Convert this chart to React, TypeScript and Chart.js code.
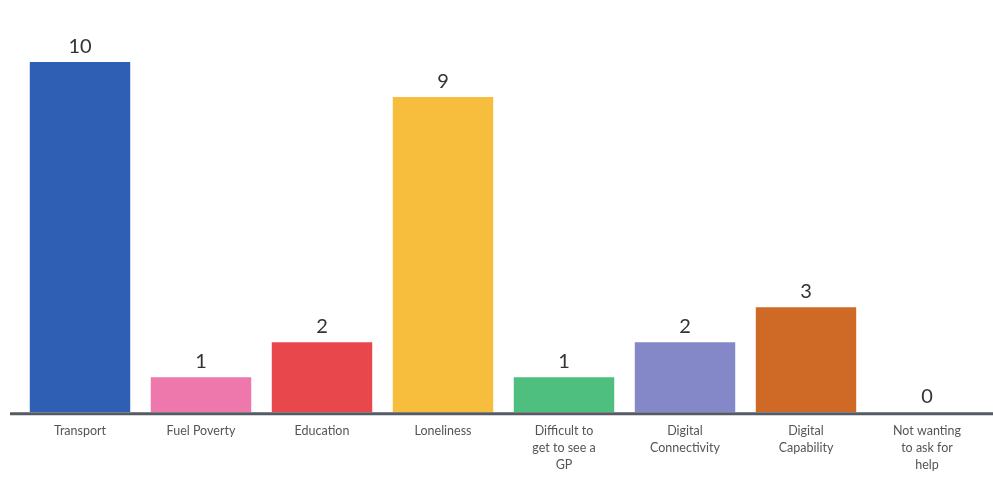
import React, { useEffect, useRef } from "react";
import { Chart, registerables } from "chart.js";

Chart.register(...registerables);

const categories: (string | string[])[] = [
  "Transport",
  "Fuel Poverty",
  "Education",
  "Loneliness",
  ["Difficult to", "get to see a", "GP"],
  ["Digital", "Connectivity"],
  ["Digital", "Capability"],
  ["Not wanting", "to ask for", "help"],
];
const values = [10, 1, 2, 9, 1, 2, 3, 0];
const colors = ["#2f5fb4", "#ee77ab", "#e8474b", "#f7bd3d", "#4ebf7f", "#8488c8", "#cf6a26", "#999999"];

const valueLabels = {
  id: "valueLabels",
  afterDatasetsDraw(chart: any) {
    const ctx = chart.ctx;
    const meta = chart.getDatasetMeta(0);
    ctx.save();
    ctx.font = "20px Lato, 'DejaVu Sans', sans-serif";
    ctx.fillStyle = "#333333";
    ctx.textAlign = "center";
    ctx.textBaseline = "alphabetic";
    meta.data.forEach((bar: any, i: number) => {
      ctx.fillText(String(values[i]), bar.x, bar.y - 9);
    });
    ctx.restore();
  },
};

const baseLine = {
  id: "baseLine",
  afterDatasetsDraw(chart: any) {
    const ctx = chart.ctx;
    const y = chart.scales.y.getPixelForValue(0);
    ctx.save();
    ctx.strokeStyle = "#555a63";
    ctx.lineWidth = 3;
    ctx.beginPath();
    ctx.moveTo(10, y + 1.5);
    ctx.lineTo(chart.width, y + 1.5);
    ctx.stroke();
    ctx.restore();
  },
};

export default function App() {
  const ref = useRef<HTMLCanvasElement | null>(null);
  useEffect(() => {
    if (!ref.current) return;
    const chart = new Chart(ref.current, {
      type: "bar",
      data: {
        labels: categories,
        datasets: [
          {
            data: values,
            backgroundColor: colors,
            barPercentage: 0.83,
            categoryPercentage: 1,
          },
        ],
      },
      options: {
        animation: false,
        responsive: false,
        maintainAspectRatio: false,
        layout: { padding: { top: 62, left: 19.5, right: 5.5, bottom: 0 } },
        plugins: { legend: { display: false }, tooltip: { enabled: false } },
        scales: {
          x: {
            grid: { display: false, drawTicks: false },
            border: { display: false },
            ticks: {
              padding: 10,
              color: "#555555",
              font: { family: "Lato, 'DejaVu Sans', sans-serif", size: 12.5, lineHeight: 1.38 },
              maxRotation: 0,
              autoSkip: false,
            },
          },
          y: {
            display: false,
            min: 0,
            max: 10,
          },
        },
      },
      plugins: [valueLabels, baseLine],
    });
    return () => chart.destroy();
  }, []);
  return (
    <div style={{ position: "absolute", left: 0, top: 0, width: 993, height: 484, background: "#fff" }}>
      <canvas ref={ref} width={993} height={484} style={{ width: 993, height: 484 }} />
    </div>
  );
}
